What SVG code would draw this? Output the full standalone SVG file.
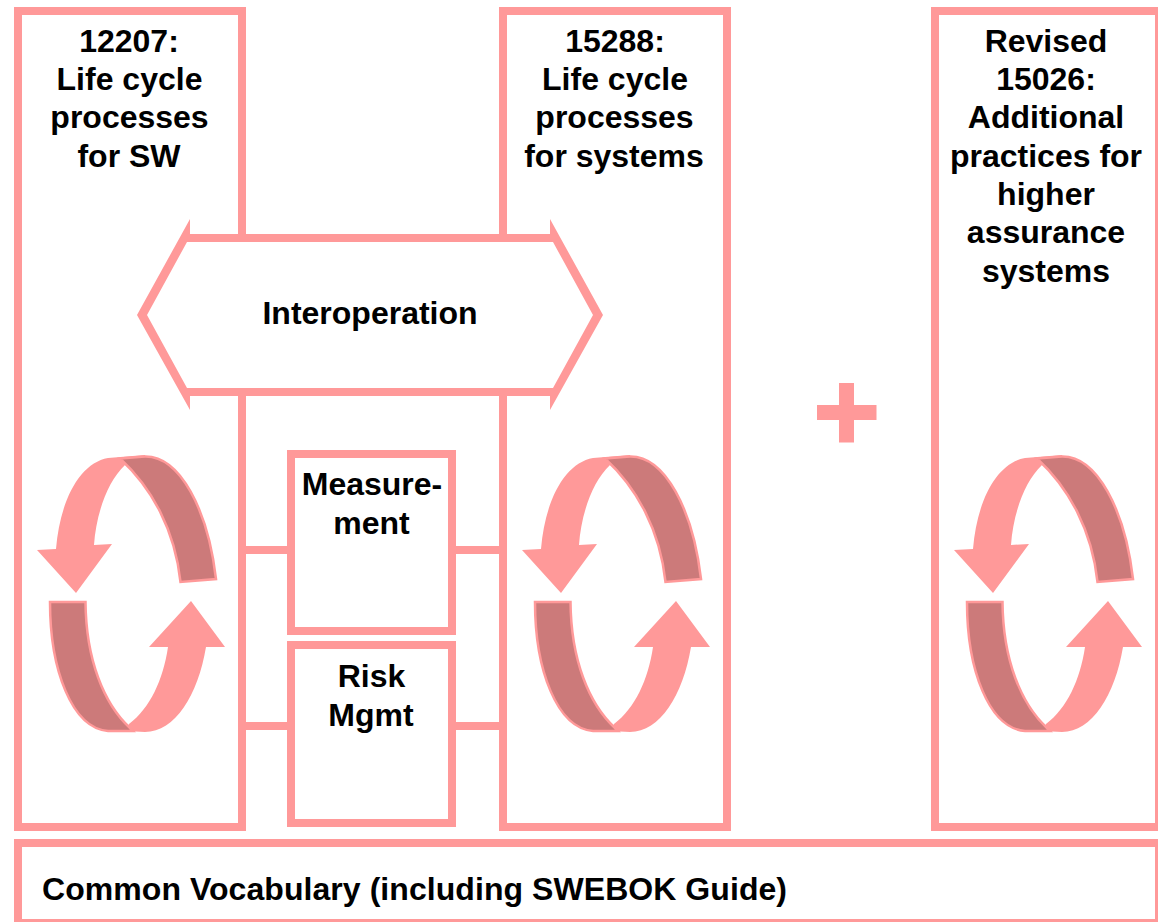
<svg xmlns="http://www.w3.org/2000/svg" width="1158" height="922" viewBox="0 0 1158 922">
<style>
.box{fill:#fff;stroke:#f99;stroke-width:8}
.ln{fill:none;stroke:#f99;stroke-width:8}
.lt{fill:#f99}
.dk{fill:#cc7a7a;stroke:#f99;stroke-width:2.5}
text{font-family:"Liberation Sans",Arial,sans-serif;font-weight:700;font-size:32px;fill:#000;text-anchor:middle}
</style>
<defs>
<g id="cycle">
<path class="lt" d="M145 455L108 458C80 463 60 500 56 549L37 550L76 593L112 544L94 545C96 515 107 482 125 465L150 470Z"/>
<path class="dk" d="M120 458.500L145 456.500C180 456 208 510 216 579L180.500 582C175 530 152 488 120 458.500Z"/>
<path class="lt" d="M125 731L129 724C150 708 163 680 168 647L149 647L191 601L225 647L206 647C198 695 175 732 145 732Z"/>
<path class="dk" d="M50 602L85.500 602C86 660 104 704 130 728L133 731L108 731C72 728 50 670 50 602Z"/>
</g>
</defs>
<g id="connectors">
<path class="ln" d="M242 550H291M452 550H503M242 726H291M452 726H503"/>
</g>
<g id="box-12207">
<rect class="box" x="18" y="11" width="224" height="816"/>
<text x="129"><tspan x="129" y="52">12207:</tspan><tspan x="129.500" y="90">Life cycle</tspan><tspan x="129.500" y="128">processes</tspan><tspan x="129" y="167">for SW</tspan></text>
<use href="#cycle"/>
</g>
<g id="box-15288">
<rect class="box" x="503" y="11" width="224" height="816"/>
<text x="614"><tspan x="615" y="52">15288:</tspan><tspan x="615" y="90">Life cycle</tspan><tspan x="614.500" y="128">processes</tspan><tspan x="614" y="167">for systems</tspan></text>
<use href="#cycle" x="485"/>
</g>
<g id="box-15026">
<rect class="box" x="935" y="11" width="224" height="816"/>
<text x="1046"><tspan x="1046" y="52">Revised</tspan><tspan x="1046" y="90">15026:</tspan><tspan x="1046" y="128">Additional</tspan><tspan x="1046" y="167">practices for</tspan><tspan x="1046" y="205">higher</tspan><tspan x="1046" y="243">assurance</tspan><tspan x="1046" y="282">systems</tspan></text>
<use href="#cycle" x="917"/>
</g>
<g id="interoperation">
<path fill="#fff" d="M143 315L187 238H553L597 315L553 392H187Z"/>
<path fill="#f99" fill-rule="evenodd" d="M137 315L190 219V234H550V219L603 315L550 410V396H190V410ZM147 315L187 388H553L593 315L553 242H187Z"/>
<text x="370" y="324">Interoperation</text>
</g>
<g id="measurement">
<rect class="box" x="291" y="454" width="161" height="177"/>
<text x="372"><tspan x="372" y="495">Measure-</tspan><tspan x="371.500" y="534">ment</tspan></text>
</g>
<g id="risk">
<rect class="box" x="291" y="645" width="161" height="178"/>
<text x="372"><tspan x="371.500" y="687">Risk</tspan><tspan x="371" y="726">Mgmt</tspan></text>
</g>
<g id="plus">
<path class="lt" d="M839 383H854V405H876.500V420H854V442.500H839V420H817V405H839Z"/>
</g>
<g id="vocabulary">
<rect class="box" x="18" y="843" width="1141" height="80"/>
<text x="414.500" y="900" textLength="745" lengthAdjust="spacing">Common Vocabulary (including SWEBOK Guide)</text>
</g>
</svg>
